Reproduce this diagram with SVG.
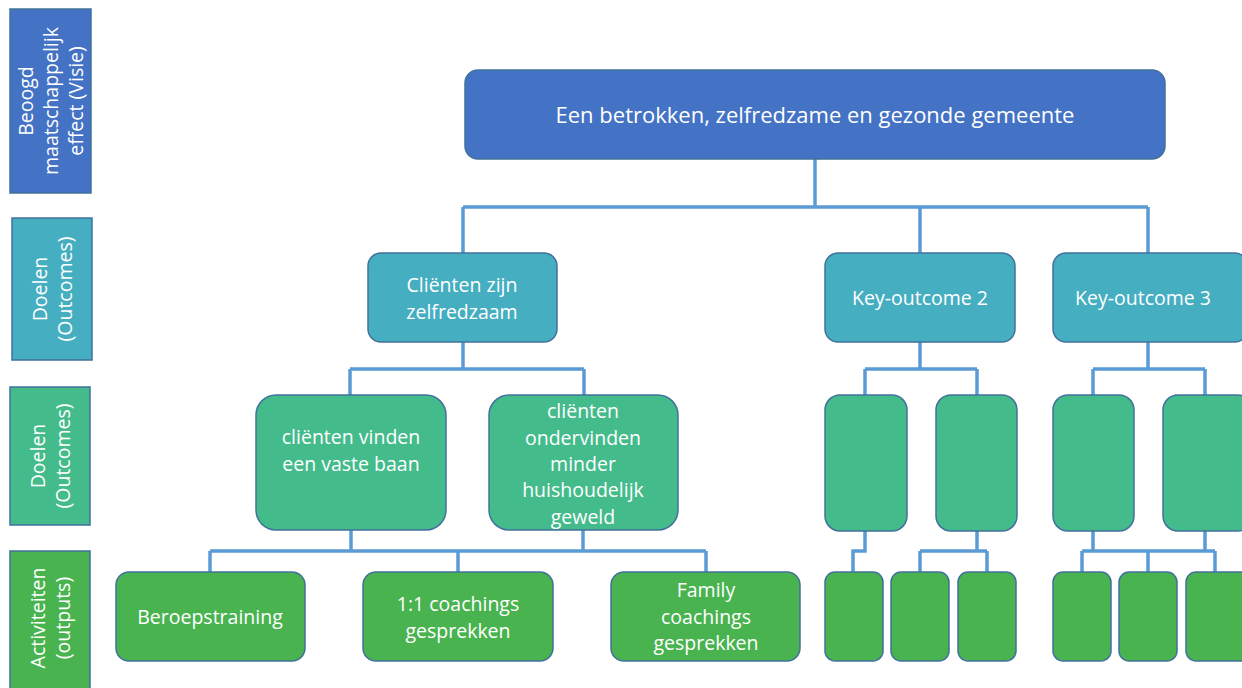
<svg xmlns="http://www.w3.org/2000/svg" width="1242" height="688" viewBox="0 0 1242 688">
<style>
.lbl{stroke:#41719C;stroke-width:1.5}
.n{stroke:#41719C;stroke-width:1.5}
.blue{fill:#4472C4}
.teal{fill:#45AEC1}
.mg{fill:#44BB8B}
.g{fill:#49B350}
.t{fill:#FFFFFF;font-family:"Open Sans","Liberation Sans",sans-serif;font-size:19.5px;text-anchor:middle}
.lt{font-size:19.5px}
.c{fill:none;stroke:#5B9BD5;stroke-width:3.5}
</style>
<rect width="1242" height="688" fill="#FFFFFF"/>
<g id="label-visie">
<rect class="lbl blue" x="10" y="9" width="81" height="184"/>
<text class="t lt" transform="translate(33,101) rotate(-90)">Beoogd</text>
<text class="t lt" transform="translate(58,101) rotate(-90)">maatschappelijk</text>
<text class="t lt" transform="translate(83,101) rotate(-90)">effect (Visie)</text>
</g>
<g id="label-doelen1">
<rect class="lbl teal" x="12" y="218" width="80" height="142"/>
<text class="t lt" transform="translate(47,289) rotate(-90)">Doelen</text>
<text class="t lt" transform="translate(72,289) rotate(-90)">(Outcomes)</text>
</g>
<g id="label-doelen2">
<rect class="lbl mg" x="10" y="387" width="80" height="138"/>
<text class="t lt" transform="translate(45,456) rotate(-90)">Doelen</text>
<text class="t lt" transform="translate(70,456) rotate(-90)">(Outcomes)</text>
</g>
<g id="label-activiteiten">
<rect class="lbl g" x="10" y="551" width="80" height="140"/>
<text class="t lt" transform="translate(45,618) rotate(-90)">Activiteiten</text>
<text class="t lt" transform="translate(70,618) rotate(-90)">(outputs)</text>
</g>
<g id="connectors">
<path class="c" d="M815,159 V207 M463,207 H1148 M463,207 V253 M920,207 V253 M1148,207 V253"/>
<path class="c" d="M463,342 V369 M350,369 H584 M350,369 V395 M584,369 V395"/>
<path class="c" d="M920,342 V369 M865,369 H977 M865,369 V395 M977,369 V395"/>
<path class="c" d="M1148,342 V369 M1093,369 H1205 M1093,369 V395 M1205,369 V395"/>
<path class="c" d="M351,530 V551 M583,530 V551 M210,551 H706 M210,551 V572 M458,551 V572 M706,551 V572"/>
<path class="c" d="M865,531 V551 H853 V572"/>
<path class="c" d="M977,531 V551 M920,551 H987 M920,551 V572 M987,551 V572"/>
<path class="c" d="M1093,531 V551 M1205,531 V551 M1082,551 H1215 M1082,551 V572 M1148,551 V572 M1215,551 V572"/>
</g>
<g id="n-top">
<rect class="n blue" x="465" y="70" width="700" height="89" rx="13"/>
<text class="t" x="815" y="123" style="font-size:22px">Een betrokken, zelfredzame en gezonde gemeente</text>
</g>
<g id="n-clienten">
<rect class="n teal" x="368" y="253" width="189" height="89" rx="13"/>
<text class="t" x="462" y="292">Cliënten zijn</text>
<text class="t" x="462" y="319">zelfredzaam</text>
</g>
<g id="n-ko2">
<rect class="n teal" x="825" y="253" width="190" height="89" rx="13"/>
<text class="t" x="920" y="305">Key-outcome 2</text>
</g>
<g id="n-ko3">
<rect class="n teal" x="1053" y="253" width="195" height="89" rx="13"/>
<text class="t" x="1143" y="305">Key-outcome 3</text>
</g>
<g id="n-baan">
<rect class="n mg" x="256" y="395" width="190" height="135" rx="20"/>
<text class="t" x="351" y="444">cliënten vinden</text>
<text class="t" x="351" y="471">een vaste baan</text>
</g>
<g id="n-geweld">
<rect class="n mg" x="489" y="395" width="189" height="135" rx="20"/>
<text class="t" x="583" y="418">cliënten</text>
<text class="t" x="583" y="445">ondervinden</text>
<text class="t" x="583" y="471">minder</text>
<text class="t" x="583" y="497">huishoudelijk</text>
<text class="t" x="583" y="524">geweld</text>
</g>
<g id="n-ko2a"><rect class="n mg" x="825" y="395" width="82" height="136" rx="15"/></g>
<g id="n-ko2b"><rect class="n mg" x="936" y="395" width="81" height="136" rx="15"/></g>
<g id="n-ko3a"><rect class="n mg" x="1053" y="395" width="81" height="136" rx="15"/></g>
<g id="n-ko3b"><rect class="n mg" x="1163" y="395" width="90" height="136" rx="15"/></g>
<g id="n-beroeps">
<rect class="n g" x="116" y="572" width="189" height="89" rx="13"/>
<text class="t" x="210" y="624">Beroepstraining</text>
</g>
<g id="n-coaching">
<rect class="n g" x="363" y="572" width="190" height="89" rx="13"/>
<text class="t" x="458" y="611">1:1 coachings</text>
<text class="t" x="458" y="638">gesprekken</text>
</g>
<g id="n-family">
<rect class="n g" x="611" y="572" width="189" height="89" rx="13"/>
<text class="t" x="706" y="597">Family</text>
<text class="t" x="706" y="624">coachings</text>
<text class="t" x="706" y="650">gesprekken</text>
</g>
<g id="n-a1"><rect class="n g" x="825" y="572" width="58" height="89" rx="10"/></g>
<g id="n-a2"><rect class="n g" x="891" y="572" width="58" height="89" rx="10"/></g>
<g id="n-a3"><rect class="n g" x="958" y="572" width="58" height="89" rx="10"/></g>
<g id="n-a4"><rect class="n g" x="1053" y="572" width="58" height="89" rx="10"/></g>
<g id="n-a5"><rect class="n g" x="1119" y="572" width="58" height="89" rx="10"/></g>
<g id="n-a6"><rect class="n g" x="1186" y="572" width="66" height="89" rx="10"/></g>
</svg>
